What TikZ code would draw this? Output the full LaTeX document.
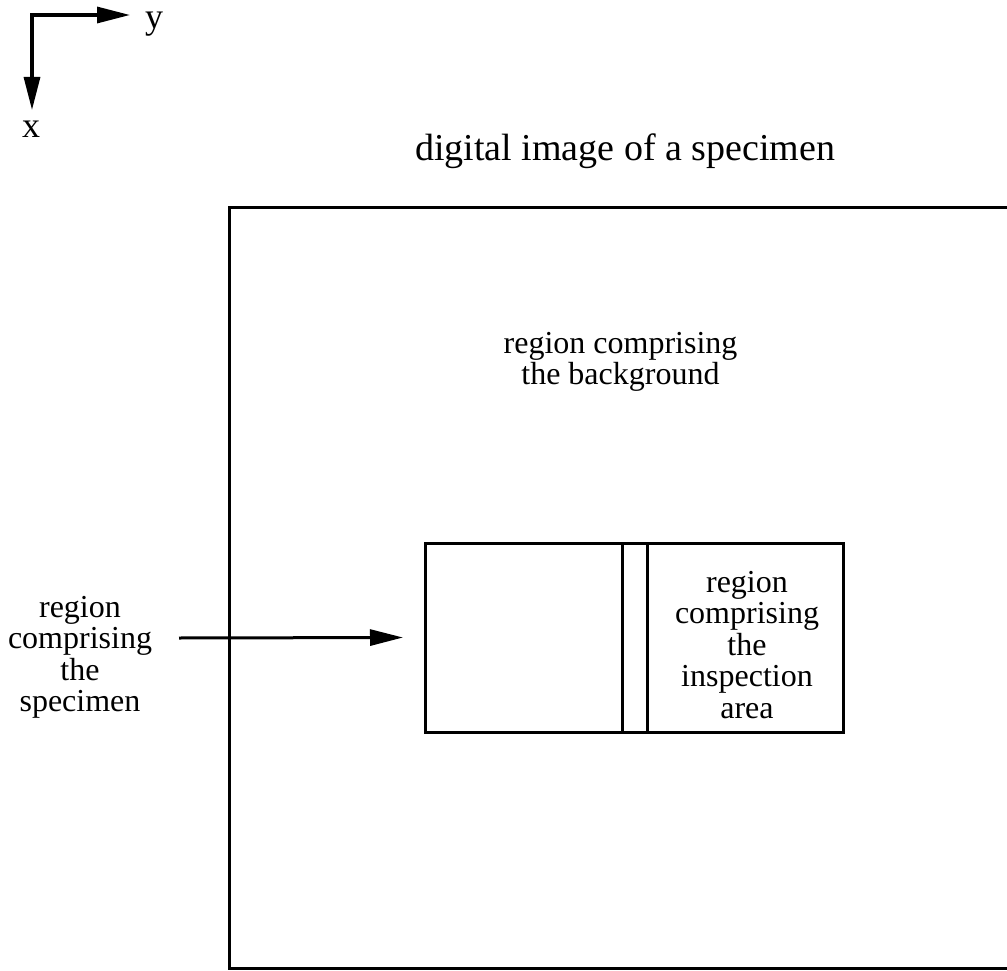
\documentclass[tikz,border=0pt]{standalone}
\usepackage{fontspec}
\setmainfont{Liberation Serif}
\usetikzlibrary{arrows.meta}
\tikzset{
  frame/.style={draw, line width=3pt, inner sep=0pt, outer sep=0pt},
  txt/.style={font=\fontsize{32}{31.5}\selectfont, align=center, inner sep=0pt, anchor=north},
  axlab/.style={font=\fontsize{36}{36}\selectfont, inner sep=0pt, anchor=base},
  arr/.style={-{Triangle[length=33pt,width=16pt]}, line width=3pt},
}
\begin{document}
\begin{tikzpicture}[x=1pt,y=-1pt]
\useasboundingbox (0,0) rectangle (1007,971);
% axes
\coordinate (orig) at (32,15);
\coordinate (ytip) at (130,15);
\coordinate (xtip) at (32,110);
\draw[arr, line width=3.2pt, line cap=rect] (orig) -- (ytip);
\draw[arr, line width=3.2pt, line cap=rect] (orig) -- (xtip);
\node[axlab] (ylab) at (154,29) {y};
\node[axlab] (xlab) at (31,138) {x};
% title
\node[txt, font=\fontsize{38}{38}\selectfont] (title) at (625,134) {digital image of a specimen};
% outer image frame
\node[frame, minimum width=801pt, minimum height=761pt] (img) at (629.5,587.5) {};
\node[txt] (bg) at (620.5,332) {region comprising\\the background};
% inner regions
\node[frame, minimum width=197pt, minimum height=189pt] (spec) at (523.5,637.5) {};
\node[frame, minimum width=25pt, minimum height=189pt] (gap) at (634.5,637.5) {};
\node[frame, minimum width=196pt, minimum height=189pt] (insp) at (745,637.5) {};
\node[txt] (insptxt) at (747,571) {region\\comprising\\the\\inspection\\area};
% specimen label and arrow
\node[txt] (speclab) at (80,596) {region\\comprising\\the\\specimen};
\coordinate (astart) at (179,638);
\draw[arr] (astart) -- ([xshift=-22pt]spec.west);
\end{tikzpicture}
\end{document}
